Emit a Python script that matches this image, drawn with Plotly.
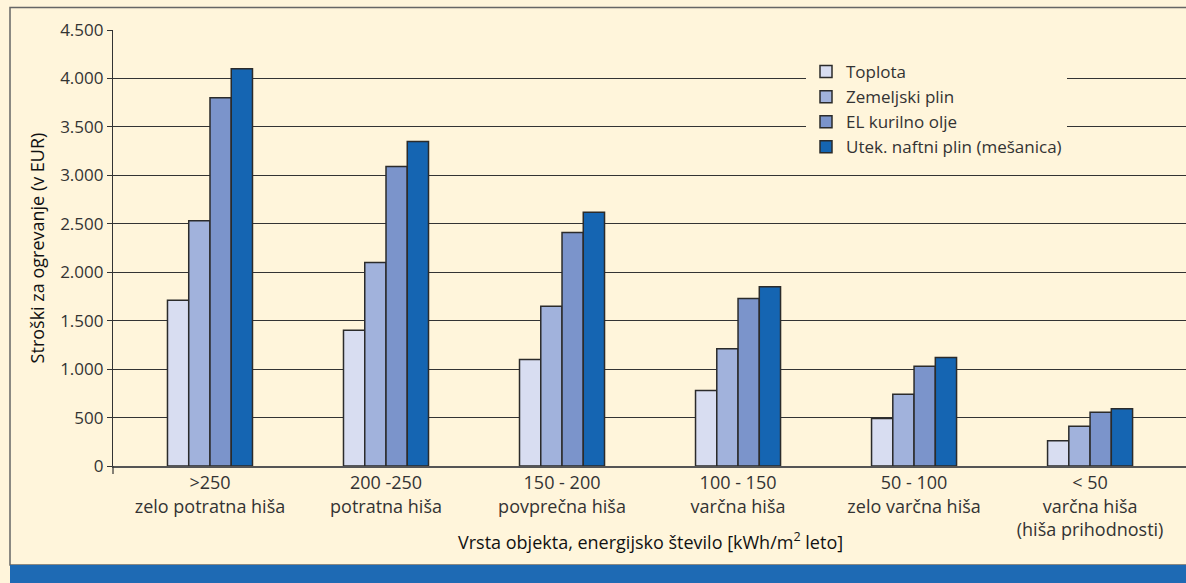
import plotly.graph_objects as go

# categories (energy class of the building)
categories = [
    ">250<br>zelo potratna hiša",
    "200 -250<br>potratna hiša",
    "150 - 200<br>povprečna hiša",
    "100 - 150<br>varčna hiša",
    "50 - 100<br>zelo varčna hiša",
    "< 50<br>varčna hiša<br>(hiša prihodnosti)",
]
positions = [0, 1, 2, 3, 4, 5]

# heating costs in EUR
toplota = [1710, 1400, 1100, 780, 490, 260]
zemeljski_plin = [2530, 2100, 1650, 1210, 740, 410]
el_kurilno_olje = [3800, 3090, 2410, 1730, 1030, 555]
utek_naftni_plin = [4100, 3350, 2620, 1850, 1120, 590]

series_names = ["Toplota", "Zemeljski plin", "EL kurilno olje", "Utek. naftni plin (mešanica)"]
series_values = [toplota, zemeljski_plin, el_kurilno_olje, utek_naftni_plin]
colors = ["#D8DDF1", "#A1B2DC", "#7B94CB", "#1565B2"]

y_ticks = [0, 500, 1000, 1500, 2000, 2500, 3000, 3500, 4000, 4500]

bg = "#FFF5DB"
font_family = "Open Sans"

fig = go.Figure()
for name, vals, col in zip(series_names, series_values, colors):
    fig.add_trace(go.Bar(
        x=positions, y=vals, name=name,
        marker=dict(color=col, line=dict(color="#2b2b2b", width=1.5)),
    ))

# plot area: x 113..1186, y 30..466 px
W, H = 1186, 583
L, R, T, B = 113, 0, 30, 117
pw, ph = W - L - R, H - T - B


def px_x(px):
    return (px - L) / pw


def px_y(py):
    return (H - B - py) / ph


fig.update_layout(
    width=W, height=H,
    margin=dict(l=L, r=R, t=T, b=B),
    paper_bgcolor=bg, plot_bgcolor=bg,
    separators=",.",
    barmode="group", bargap=0.517, bargroupgap=0,
    font=dict(family=font_family, size=17, color="#333333"),
    showlegend=True,
    legend=dict(
        x=px_x(806), y=px_y(54), xanchor="left", yanchor="top",
        bgcolor=bg, borderwidth=0,
        font=dict(size=17, color="#333333"),
        traceorder="normal", tracegroupgap=0,
    ),
)

fig.update_xaxes(
    range=[-0.551, 5.545],
    tickvals=positions, ticktext=categories,
    showgrid=False, zeroline=False,
    showline=True, linecolor="#555555", linewidth=1.5,
    ticks="", tickfont=dict(size=18, color="#333333"),
)

fig.update_yaxes(
    range=[0, 4500],
    tickvals=y_ticks, tickformat=",d",
    showgrid=True, gridcolor="#333333", gridwidth=1,
    zeroline=False,
    showline=True, linecolor="#333333", linewidth=1.2,
    ticks="outside", ticklen=5, tickcolor="#333333",
    tickfont=dict(size=17, color="#333333"),
    title=dict(text="Stroški za ogrevanje (v EUR)",
               font=dict(size=18, color="#111111"), standoff=10),
)

# x axis title sits beside the third line of the last tick label
fig.add_annotation(
    text="Vrsta objekta, energijsko število [kWh/m<sup>2</sup> leto]",
    xref="paper", yref="paper", x=px_x(650), y=px_y(541),
    xanchor="center", yanchor="middle", showarrow=False,
    font=dict(size=18, color="#111111"),
)

# frame, bottom blue band and small axis stub below origin
fig.add_shape(type="rect", xref="paper", yref="paper",
              x0=px_x(10), x1=px_x(1200), y0=px_y(565), y1=px_y(7.5),
              line=dict(color="#666666", width=1.5), fillcolor="rgba(0,0,0,0)")
fig.add_shape(type="rect", xref="paper", yref="paper",
              x0=px_x(10), x1=px_x(1200), y0=px_y(600), y1=px_y(565),
              line=dict(width=0), fillcolor="#1E6AB4")
fig.add_shape(type="line", xref="paper", yref="paper",
              x0=0, x1=0, y0=px_y(474), y1=0,
              line=dict(color="#333333", width=1.2))

fig.write_html(
    "out.html",
    config={"displayModeBar": False},
    post_script="document.body.style.margin='0';document.body.style.overflow='hidden';"
                "document.body.style.background='" + bg + "';",
)
